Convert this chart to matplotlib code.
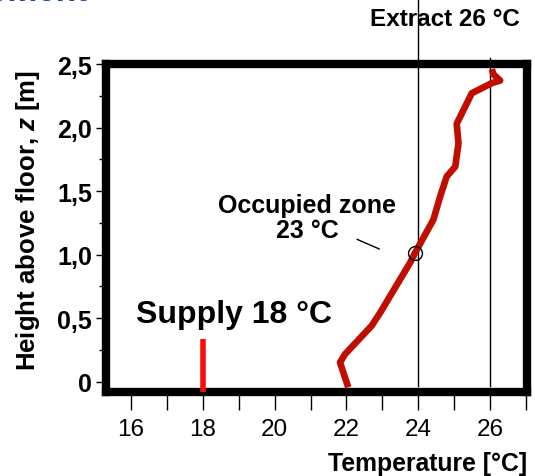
import matplotlib.pyplot as plt
from matplotlib.ticker import MultipleLocator, FuncFormatter

plt.rcParams['font.family'] = ['Liberation Sans', 'DejaVu Sans']
plt.rcParams['mathtext.fontset'] = 'custom'
plt.rcParams['mathtext.it'] = 'Liberation Sans:bold:italic'
plt.rcParams['mathtext.rm'] = 'Liberation Sans:bold'

# measured temperature profile (temperature in degC, height in m)
temp = [22.05, 21.82, 21.96, 22.70, 22.94, 23.77, 23.91, 24.42, 24.61, 24.79,
        25.03, 25.12, 25.07, 25.49, 26.05, 26.28, 26.09, 26.05]
height = [-0.044, 0.152, 0.217, 0.44, 0.544, 0.936, 1.014, 1.275, 1.458, 1.614,
          1.693, 1.876, 2.03, 2.27, 2.35, 2.37, 2.42, 2.46]

supply_temp = 18
supply_z = [-0.08, 0.34]
extract_temp = 26
occupied_temp = 24
occupied_point = (23.92, 1.014)

fig = plt.figure(figsize=(5.35, 4.77), dpi=100)
ax = fig.add_axes([0.198, 0.176, 0.7865, 0.6877])

# reference lines
ax.plot([occupied_temp, occupied_temp], [-0.03, 3.0], color='black', lw=1.0, clip_on=False, zorder=2)
ax.plot([extract_temp, extract_temp], [-0.03, 2.55], color='black', lw=1.0, clip_on=False, zorder=2)

# profile
ax.plot(temp, height, color='#c00d00', lw=4.8, solid_capstyle='butt', zorder=3)
ax.plot([supply_temp, supply_temp], supply_z, color='#ff0a0a', lw=4.0, solid_capstyle='butt', zorder=3)
ax.plot(*occupied_point, marker='o', ms=10, mfc='none', mec='black', mew=1.0, zorder=4)
ax.plot([22.3, 22.91], [1.12, 1.045], color='black', lw=1.0)

ax.text(20.9, 1.29, 'Occupied zone\n23 °C', ha='center', va='center', fontsize=18,
        fontweight='bold', linespacing=1.05)
ax.text(18.87, 0.53, 'Supply 18 °C', ha='center', va='center', fontsize=23, fontweight='bold')
fig.text(445 / 535, 1 - 20 / 477, 'Extract 26 °C', ha='center', va='center', fontsize=17.5,
         fontweight='bold')
fig.text(88 / 535, 1 - 1.5 / 477, 'Displacement', ha='right', va='baseline', fontsize=24,
         fontweight='bold', color='#1a4b9b')

ax.set_xlim(15.30, 27.02)
ax.set_ylim(-0.081, 2.5)

ax.xaxis.set_major_locator(MultipleLocator(2))
ax.xaxis.set_minor_locator(MultipleLocator(1))
ax.yaxis.set_major_locator(MultipleLocator(0.5))
ax.yaxis.set_minor_locator(MultipleLocator(0.25))
ax.yaxis.set_major_formatter(FuncFormatter(lambda v, p: '0' if abs(v) < 1e-9 else f'{v:.1f}'.replace('.', ',')))

ax.tick_params(axis='x', which='both', direction='out', length=13, width=1, labelsize=17.5, pad=6)
ax.tick_params(axis='y', which='major', direction='out', length=7, width=1, labelsize=18, pad=3)
ax.tick_params(axis='y', which='minor', direction='out', length=5, width=1)
for lab in ax.get_yticklabels():
    lab.set_fontweight('bold')

for s in ax.spines.values():
    s.set_linewidth(6)
    s.set_color('black')

ax.set_xlabel('Temperature [°C]', fontsize=17.8, fontweight='bold', loc='right')
ax.xaxis.set_label_coords(1.0, -0.18)
ax.set_ylabel('Height above floor, $z$ [m]', fontsize=18.5, fontweight='bold')
ax.yaxis.set_label_coords(-0.185, 0.527)
ax.yaxis.label.set_va('center')

fig.savefig('out.png', dpi=100)
